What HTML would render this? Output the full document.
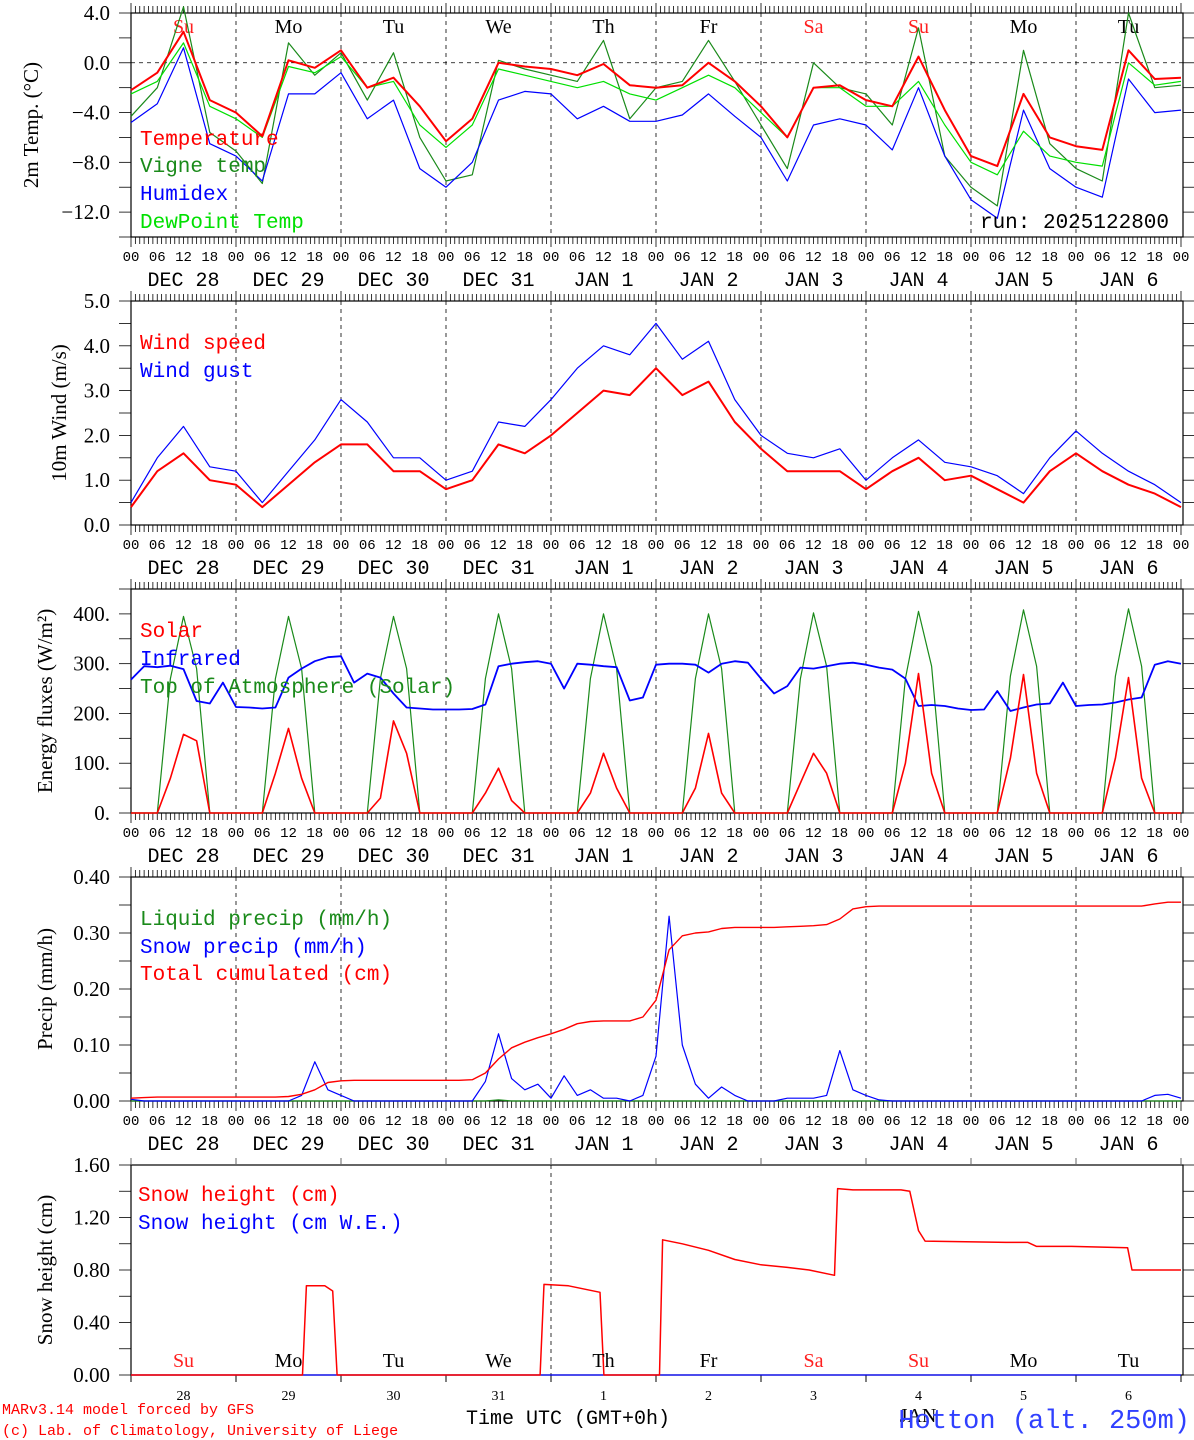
<!DOCTYPE html>
<html><head><meta charset="utf-8"><style>
html,body{margin:0;padding:0;background:#fff;}
svg{display:block;}
text{font-family:"Liberation Serif",serif;}
.mono{font-family:"Liberation Mono",monospace;}
</style></head><body>
<svg id="chart" width="1194" height="1440" viewBox="0 0 1194 1440" xmlns="http://www.w3.org/2000/svg"></svg>
<script>
// ---------- DATA ----------
const dayNames = ["Su","Mo","Tu","We","Th","Fr","Sa","Su","Mo","Tu"];
const dayLabels = ["DEC 28","DEC 29","DEC 30","DEC 31","JAN  1","JAN  2","JAN  3","JAN  4","JAN  5","JAN  6"];
const dayNums = ["28","29","30","31","1","2","3","4","5","6"];
const hourTicks = ["00","06","12","18"];
// 6-hourly series (41 points)
const temperature = [-2.2,-0.8,2.5,-3.0, -4.0,-5.9,0.2,-0.4, 1.0,-2.0,-1.2,-3.5, -6.3,-4.5,0.0,-0.3, -0.5,-1.0,-0.1,-1.8, -2.0,-1.8,0.0,-1.5, -3.5,-6.0,-2.0,-1.8, -3.0,-3.5,0.5,-3.8, -7.5,-8.3,-2.5,-6.0, -6.7,-7.0,1.0,-1.3,-1.2];
const vigneTemp = [-4.3,-2.0,4.5,-5.6, -7.1,-9.7,1.6,-1.0, 0.8,-3.0,0.8,-6.0, -9.5,-9.0,0.2,-0.5, -1.0,-1.5,1.8,-4.5, -2.0,-1.5,1.8,-1.5, -5.0,-8.5,0.0,-2.0, -2.5,-5.0,2.8,-7.5, -10.0,-11.5,1.0,-6.5, -8.5,-9.5,4.0,-2.0,-1.8];
const humidex = [-4.8,-3.3,1.2,-6.5, -7.5,-9.5,-2.5,-2.5, -0.8,-4.5,-3.0,-8.5, -10.0,-8.0,-3.0,-2.3, -2.5,-4.5,-3.5,-4.7, -4.7,-4.2,-2.5,-4.3, -6.0,-9.5,-5.0,-4.5, -5.0,-7.0,-2.0,-7.5, -11.0,-12.5,-3.8,-8.5, -10.0,-10.8,-1.3,-4.0,-3.8];
const dewPoint = [-2.5,-1.5,1.6,-3.5, -4.5,-6.0,-0.3,-0.8, 0.5,-2.0,-1.5,-5.0, -6.8,-5.0,-0.5,-1.0, -1.5,-2.0,-1.5,-2.5, -3.0,-2.0,-1.0,-2.0, -4.0,-6.0,-2.0,-2.0, -3.5,-3.5,-1.5,-5.0, -8.0,-9.0,-5.5,-7.5, -8.0,-8.3,0.0,-1.8,-1.5];
const windSpeed = [0.4,1.2,1.6,1.0, 0.9,0.4,0.9,1.4, 1.8,1.8,1.2,1.2, 0.8,1.0,1.8,1.6, 2.0,2.5,3.0,2.9, 3.5,2.9,3.2,2.3, 1.7,1.2,1.2,1.2, 0.8,1.2,1.5,1.0, 1.1,0.8,0.5,1.2, 1.6,1.2,0.9,0.7,0.4];
const windGust = [0.5,1.5,2.2,1.3, 1.2,0.5,1.2,1.9, 2.8,2.3,1.5,1.5, 1.0,1.2,2.3,2.2, 2.8,3.5,4.0,3.8, 4.5,3.7,4.1,2.8, 2.0,1.6,1.5,1.7, 1.0,1.5,1.9,1.4, 1.3,1.1,0.7,1.5, 2.1,1.6,1.2,0.9,0.5];
// 3-hourly series (81 points)
const solar = [0,0,0,70,158,145,0,0, 0,0,0,80,170,70,0,0, 0,0,0,30,185,120,0,0, 0,0,0,40,90,25,0,0, 0,0,0,40,120,50,0,0, 0,0,0,50,160,40,0,0, 0,0,0,60,120,80,0,0, 0,0,0,100,280,80,0,0, 0,0,0,110,278,80,0,0, 0,0,0,110,272,70,0,0,0];
const toaSolar = [0,0,0,270,395,290,0,0, 0,0,0,270,395,290,0,0, 0,0,0,270,395,290,0,0, 0,0,0,270,400,290,0,0, 0,0,0,270,400,290,0,0, 0,0,0,270,400,290,0,0, 0,0,0,270,402,295,0,0, 0,0,0,270,405,295,0,0, 0,0,0,275,408,295,0,0, 0,0,0,275,410,295,0,0,0];
const infrared = [268,295,293,296,289,225,220,262, 213,212,210,212,272,290,305,313, 315,262,280,272,240,212,210,208, 208,208,209,218,295,300,303,305, 300,250,300,298,295,293,226,232, 298,300,300,298,282,300,305,302, 270,240,255,292,290,295,300,302, 298,292,288,270,215,217,215,210, 207,208,245,205,212,218,220,262, 215,217,218,222,228,232,298,305,300];
const liquidPrecip = [0,0,0,0,0,0,0,0, 0,0,0,0,0,0,0,0, 0,0,0,0,0,0,0,0, 0,0,0,0,0.002,0,0,0, 0,0,0,0,0,0,0,0, 0,0,0,0,0,0,0,0, 0,0,0,0,0,0,0,0, 0,0,0,0,0,0,0,0, 0,0,0,0,0,0,0,0, 0,0,0,0,0,0,0,0,0];
const snowPrecip = [0.003,0,0,0,0,0,0,0, 0,0,0,0,0,0.01,0.07,0.02, 0.01,0,0,0,0,0,0,0, 0,0,0,0.035,0.12,0.04,0.02,0.03, 0.005,0.045,0.01,0.02,0.005,0.005,0,0.01, 0.08,0.33,0.1,0.03,0.005,0.025,0.01,0, 0,0,0.005,0.005,0.005,0.01,0.09,0.02, 0.01,0.002,0,0,0,0,0,0, 0,0,0,0,0,0,0,0, 0,0,0,0,0,0,0.01,0.012,0.005];
const totalCum = [0.005,0.006,0.007,0.007,0.007,0.007,0.007,0.007, 0.007,0.007,0.007,0.007,0.008,0.012,0.02,0.033, 0.036,0.037,0.037,0.037,0.037,0.037,0.037,0.037, 0.037,0.037,0.038,0.05,0.075,0.095,0.105,0.113, 0.12,0.128,0.138,0.142,0.143,0.143,0.143,0.15, 0.18,0.27,0.295,0.3,0.302,0.308,0.31,0.31, 0.31,0.31,0.311,0.312,0.313,0.315,0.325,0.343, 0.347,0.348,0.348,0.348,0.348,0.348,0.348,0.348, 0.348,0.348,0.348,0.348,0.348,0.348,0.348,0.348, 0.348,0.348,0.348,0.348,0.348,0.348,0.352,0.355,0.355];
// snow height: breakpoints (hours since Dec 28 00 UTC) and values
const snowHours = [0,39.2,40.1,44.3,46.1,47.1,93.5,94.4,100,107.2,108.1,120.8,121.5,126,132,138,144,150,155,160.8,161.5,165,176,178,180,181.5,200,205,207,215,227.8,228.8,240];
const snowHeight = [0,0,0.68,0.68,0.64,0,0,0.69,0.68,0.63,0,0,1.03,1.0,0.95,0.88,0.84,0.82,0.80,0.76,1.42,1.41,1.41,1.40,1.10,1.02,1.01,1.01,0.98,0.98,0.97,0.80,0.80];
const snowWE = [0,0,0,0,0,0,0,0,0,0,0,0,0,0,0,0,0,0,0,0,0,0,0,0,0,0,0,0,0,0,0,0,0];

// ---------- DRAWING ----------
const NS = "http://www.w3.org/2000/svg";
const svg = document.getElementById("chart");
const X0 = 131, X1 = 1183, PXH = 105/24;
function xAt(h){ return X0 + h*PXH; }
function mk(tag, attrs, parent){
  const e = document.createElementNS(NS, tag);
  for (const k in attrs) e.setAttribute(k, attrs[k]);
  (parent||svg).appendChild(e);
  return e;
}
function txt(str, x, y, size, color, anchor, cls, parent){
  const t = mk("text", {x:x, y:y, "font-size":size, fill:color, "text-anchor":anchor||"start"}, parent);
  if (cls) t.setAttribute("class", cls);
  t.textContent = str;
  return t;
}
function makeY(p){ return v => p.bot - (v - p.ymin)/(p.ymax - p.ymin)*(p.bot - p.top); }

function drawPanel(p){
  const g = mk("g", {});
  
  
  const y = makeY(p);
  const fr = mk("rect", {x:X0, y:p.top, width:X1-X0, height:p.bot-p.top, fill:"none", stroke:"#000", "stroke-width":1.2}, g);
  
  
  for (let d=1; d<10; d++){
    if (p.gridDays && !p.gridDays.includes(d)) continue;
    const gl = mk("line", {x1:xAt(d*24), x2:xAt(d*24), y1:p.top, y2:p.bot, stroke:"#000", "stroke-width":0.8, "stroke-dasharray":"4,4"}, g);
    
    
  }
  if (p.hourly){
    for (let h=0; h<=240; h++){
      const x = xAt(h), major = h%24===0;
      mk("line", {x1:x, x2:x, y1:p.top-(major?10:7), y2:p.top, stroke:"#000", "stroke-width":0.8}, g);
      mk("line", {x1:x, x2:x, y1:p.bot, y2:p.bot+(major?10:7), stroke:"#000", "stroke-width":0.8}, g);
    }
  } else {
    for (let d=0; d<=10; d++){
      mk("line", {x1:xAt(d*24), x2:xAt(d*24), y1:p.top-7, y2:p.top, stroke:"#666", "stroke-width":1}, g);
      mk("line", {x1:xAt(d*24), x2:xAt(d*24), y1:p.bot, y2:p.bot+7, stroke:"#000", "stroke-width":1}, g);
    }
  }
  for (let v=p.ymin; v<=p.ymax+1e-9; v+=p.minor){
    const yy = y(v);
    mk("line", {x1:X0-12, x2:X0, y1:yy, y2:yy, stroke:"#000", "stroke-width":0.8}, g);
    mk("line", {x1:X1, x2:X1+11, y1:yy, y2:yy, stroke:"#000", "stroke-width":0.8}, g);
  }
  for (let i=0; i<p.yLabels.length; i++){
    const t = txt(p.yLabels[i], 110, y(p.yValues[i])+7, 21, "#000", "end", null, g);
    
    
  }
  const tt = mk("text", {x:0, y:0, "font-size":21, fill:"#000", "text-anchor":"middle", transform:`translate(${p.titleX},${(p.top+p.bot)/2}) rotate(-90)`}, g);
  tt.textContent = p.title;
  
  
  if (p.hourly){
    for (let d=0; d<=10; d++){
      for (let k=0; k<4; k++){
        if (d===10 && k>0) break;
        const tl = txt(hourTicks[k], xAt(d*24+k*6), p.bot+24, 14, "#000", "middle", "mono", g);
        
        
      }
    }
    for (let d=0; d<10; d++){
      const dl = txt(dayLabels[d], xAt(d*24+12), p.bot+49, 20, "#000", "middle", "mono", g);
      
      
    }
  }
  return {g, y};
}
function series(g, y, vals, stepH, color, w, name, hours){
  const pts = vals.map((v,i)=> (hours? xAt(hours[i]) : xAt(i*stepH)).toFixed(1)+","+y(v).toFixed(1)).join(" ");
  const pl = mk("polyline", {points:pts, fill:"none", stroke:color, "stroke-width":w, "stroke-linejoin":"round"}, g);
  
  
}
function legend(g, items){
  items.forEach(it=>{
    const t = txt(it[0], it[3]||140, it[2], 21, it[1], "start", "mono", g);
    
    
  });
}

// Panel 1
const P1 = {name:"temperature-panel", top:13, bot:237, ymin:-14, ymax:4, minor:2, yValues:[4,0,-4,-8,-12], yLabels:["4.0","0.0","\u22124.0","\u22128.0","\u221212.0"], title:"2m Temp. (\u00B0C)", titleX:38, hourly:true};
let r = drawPanel(P1);
mk("line", {x1:X0, x2:X1, y1:r.y(0), y2:r.y(0), stroke:"#000", "stroke-width":0.8, "stroke-dasharray":"4,4"}, r.g);
dayNames.forEach((n,d)=>{
  const c = (n==="Su"||n==="Sa") ? "#ff2020" : "#000";
  const t = txt(n, xAt(d*24+12), 33, 20, c, "middle", null, r.g);
  
  
});
series(r.g, r.y, vigneTemp, 6, "#1a8a1a", 1.2, "vigne-temp-line");
series(r.g, r.y, humidex, 6, "#0000ff", 1.2, "humidex-line");
series(r.g, r.y, dewPoint, 6, "#00e000", 1.2, "dewpoint-line");
series(r.g, r.y, temperature, 6, "#ff0000", 2, "temperature-line");
legend(r.g, [["Temperature","#ff0000",145],["Vigne temp","#1a8a1a",172],["Humidex","#0000ff",200],["DewPoint Temp","#00e000",228]]);
const run = txt("run: 2025122800", 1169, 228, 21, "#000", "end", "mono", r.g);



// Panel 2
const P2 = {name:"wind-panel", top:301, bot:525, ymin:0, ymax:5, minor:0.5, yValues:[5,4,3,2,1,0], yLabels:["5.0","4.0","3.0","2.0","1.0","0.0"], title:"10m Wind (m/s)", titleX:66, hourly:true};
r = drawPanel(P2);
series(r.g, r.y, windGust, 6, "#0000ff", 1.2, "wind-gust-line");
series(r.g, r.y, windSpeed, 6, "#ff0000", 2, "wind-speed-line");
legend(r.g, [["Wind speed","#ff0000",349],["Wind gust","#0000ff",377]]);

// Panel 3
const P3 = {name:"energy-panel", top:589, bot:813, ymin:0, ymax:450, minor:50, yValues:[400,300,200,100,0], yLabels:["400.","300.","200.","100.","0."], title:"Energy fluxes (W/m\u00B2)", titleX:52, hourly:true};
r = drawPanel(P3);
series(r.g, r.y, toaSolar, 3, "#1a8a1a", 1.2, "toa-solar-line");
series(r.g, r.y, infrared, 3, "#0000ff", 1.8, "infrared-line");
series(r.g, r.y, solar, 3, "#ff0000", 1.6, "solar-line");
legend(r.g, [["Solar","#ff0000",637],["Infrared","#0000ff",665],["Top of Atmosphere (Solar)","#1a8a1a",693]]);

// Panel 4
const P4 = {name:"precip-panel", top:877, bot:1101, ymin:0, ymax:0.4, minor:0.05, yValues:[0.4,0.3,0.2,0.1,0], yLabels:["0.40","0.30","0.20","0.10","0.00"], title:"Precip (mm/h)", titleX:52, hourly:true};
r = drawPanel(P4);
series(r.g, r.y, liquidPrecip, 3, "#1a8a1a", 1.2, "liquid-precip-line");
series(r.g, r.y, snowPrecip, 3, "#0000ff", 1.2, "snow-precip-line");
series(r.g, r.y, totalCum, 3, "#ff0000", 1.4, "total-cumulated-line");
legend(r.g, [["Liquid precip (mm/h)","#1a8a1a",925],["Snow precip (mm/h)","#0000ff",953],["Total cumulated (cm)","#ff0000",980]]);

// Panel 5
const P5 = {name:"snow-height-panel", top:1165, bot:1375, ymin:0, ymax:1.6, minor:0.2, yValues:[1.6,1.2,0.8,0.4,0], yLabels:["1.60","1.20","0.80","0.40","0.00"], title:"Snow height (cm)", titleX:52, hourly:false, gridDays:[4]};
r = drawPanel(P5);
series(r.g, r.y, snowWE, 0, "#0000ff", 1.2, "snow-we-line", snowHours);
series(r.g, r.y, snowHeight, 0, "#ff0000", 1.5, "snow-height-line", snowHours);
legend(r.g, [["Snow height (cm)","#ff0000",1201,138],["Snow height (cm W.E.)","#0000ff",1229,138]]);
dayNames.forEach((n,d)=>{
  const c = (n==="Su"||n==="Sa") ? "#ff2020" : "#000";
  const t = txt(n, xAt(d*24+12), 1367, 20, c, "middle", null, r.g);
  
  
  const t2 = txt(dayNums[d], xAt(d*24+12), 1400, 14, "#000", "middle", null, r.g);
  
  
});

// footer
const f1 = txt("MARv3.14 model forced by GFS", 2, 1414, 15, "#ff0000", "start", "mono");


const f2 = txt("(c) Lab. of Climatology, University of Liege", 2, 1435, 15, "#ff0000", "start", "mono");


const f3 = txt("Time UTC (GMT+0h)", 568, 1424, 20, "#000", "middle", "mono");


const f4 = txt("JAN", 918, 1422, 20, "#000", "middle");


const f5 = txt("Hotton (alt. 250m)", 1190, 1428, 27, "#3040ff", "end", "mono");


</script>
</body></html>
